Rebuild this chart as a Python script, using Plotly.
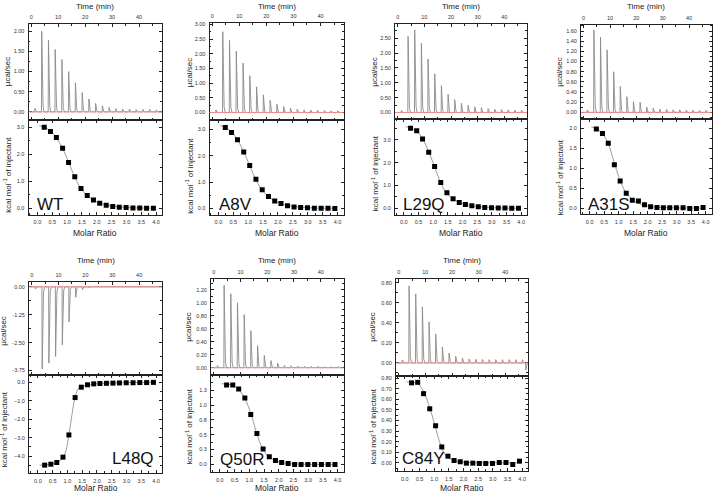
import plotly.graph_objects as go

W, H = 713, 493
FONT = "Liberation Sans, Arial, sans-serif"

# ---------------- data ----------------
INJ_TIME = [1.3, 3.8, 6.3, 8.8, 11.3, 13.8, 16.3, 18.8, 21.3, 23.8, 26.3, 28.8,
            31.3, 33.8, 36.3, 38.8, 41.3, 43.8, 46.3]
MOLAR_RATIO = [0.23, 0.44, 0.64, 0.85, 1.05, 1.26, 1.47, 1.68, 1.89, 2.10, 2.32,
               2.54, 2.76, 2.99, 3.22, 3.45, 3.68, 3.91]
FIT_X = [0.06, 0.25, 0.45, 0.65, 0.85, 0.95, 1.05, 1.15, 1.25, 1.35, 1.45, 1.65,
         1.85, 2.1, 2.4, 2.8, 3.3, 3.95]
BASELINE = 0.0

WT_PEAK = [0.09, 2.0, 1.78, 1.55, 1.30, 1.0, 0.72, 0.48, 0.32, 0.21, 0.15, 0.11,
           0.08, 0.07, 0.07, 0.06, 0.06, 0.06, 0.05]
WT_HEAT = [3.0, 2.85, 2.62, 2.23, 1.70, 1.17, 0.74, 0.48, 0.31, 0.19, 0.12, 0.07,
           0.04, 0.03, 0.02, 0.02, 0.01, 0.01]
WT_FIT = [3.06, 3.0, 2.86, 2.6, 2.22, 1.98, 1.71, 1.44, 1.18, 0.95, 0.77, 0.5,
          0.33, 0.2, 0.11, 0.05, 0.02, 0.01]

A8V_PEAK = [0.09, 2.75, 2.46, 2.09, 1.68, 1.25, 0.87, 0.60, 0.41, 0.28, 0.20, 0.15,
            0.11, 0.09, 0.08, 0.07, 0.07, 0.06, 0.06]
A8V_HEAT = [3.07, 2.88, 2.60, 2.14, 1.63, 1.11, 0.71, 0.46, 0.29, 0.19, 0.11, 0.06,
            0.04, 0.03, 0.01, 0.01, 0.01, 0.0]
A8V_FIT = [3.14, 3.07, 2.88, 2.59, 2.14, 1.89, 1.63, 1.36, 1.12, 0.90, 0.73, 0.48,
           0.32, 0.19, 0.10, 0.05, 0.02, 0.01]

L29Q_PEAK = [0.07, 2.56, 2.78, 2.33, 1.80, 1.30, 0.90, 0.61, 0.43, 0.31, 0.24, 0.19,
             0.16, 0.13, 0.11, 0.10, 0.09, 0.08, 0.08]
L29Q_HEAT = [3.5, 3.39, 3.03, 2.45, 1.83, 1.13, 0.68, 0.42, 0.26, 0.17, 0.12, 0.07,
             0.04, 0.03, 0.02, 0.02, 0.01, 0.01]
L29Q_FIT = [3.57, 3.5, 3.36, 3.03, 2.47, 2.15, 1.82, 1.47, 1.14, 0.88, 0.69, 0.44,
            0.28, 0.17, 0.10, 0.05, 0.02, 0.01]

A31S_PEAK = [0.05, 1.62, 1.48, 1.23, 0.80, 0.51, 0.31, 0.21, 0.20, 0.105, 0.085,
             0.065, 0.06, 0.05, 0.05, 0.045, 0.045, 0.04, 0.04]
A31S_HEAT = [1.99, 1.875, 1.63, 1.09, 0.68, 0.375, 0.20, 0.18, 0.083, 0.033, 0.017,
             0.01, 0.01, 0.01, 0.01, -0.01, -0.01, 0.017]
A31S_FIT = [2.04, 1.99, 1.87, 1.60, 1.13, 0.90, 0.69, 0.52, 0.39, 0.30, 0.22, 0.13,
            0.08, 0.04, 0.02, 0.01, 0.005, 0.0]

L48Q_PEAK = [-0.1, -3.68, -3.42, -3.12, -2.6, -1.58, -0.47, -0.12, -0.04, -0.03,
             -0.03, -0.03, -0.02, -0.02, -0.02, -0.02, -0.02, -0.02, -0.02]
L48Q_HEAT = [-4.48, -4.43, -4.34, -4.05, -2.85, -0.83, -0.27, -0.14, -0.09, -0.07,
             -0.06, -0.05, -0.04, -0.03, -0.03, -0.02, -0.02, -0.01]
L48Q_FIT = [-4.48, -4.47, -4.43, -4.33, -4.08, -3.7, -2.85, -1.8, -0.85, -0.4,
            -0.25, -0.15, -0.1, -0.07, -0.05, -0.03, -0.02, -0.01]
L48Q_RAW_TICKS = [0.0, -1.25, -2.5, -3.75]
L48Q_RAW_TEXT = ["0.00", "-1.25", "-2.50", "-3.75"]

Q50R_PEAK = [0.035, 1.27, 1.14, 1.0, 0.82, 0.57, 0.34, 0.19, 0.11, 0.07, 0.035,
             0.03, 0.025, 0.02, 0.02, 0.02, 0.015, 0.015, 0.015]
Q50R_HEAT = [1.34, 1.34, 1.27, 1.12, 0.84, 0.52, 0.26, 0.13, 0.066, 0.033, 0.016,
             0.0, 0.0, 0.0, 0.0, 0.0, 0.0, 0.0]
Q50R_FIT = [1.36, 1.355, 1.33, 1.26, 1.11, 1.0, 0.86, 0.70, 0.53, 0.38, 0.27, 0.13,
            0.07, 0.03, 0.01, 0.003, 0.0, 0.0]
Q50R_YTICKS = [0.0, 0.25, 0.5, 0.75, 1.0, 1.25]
Q50R_YTEXT = ["0.0", "0.3", "0.5", "0.8", "1.0", "1.3"]

C84Y_TIME = INJ_TIME + [47.6]
C84Y_PEAK = [0.03, 0.77, 0.69, 0.56, 0.41, 0.29, 0.16, 0.10, 0.067, 0.05, 0.04,
             0.037, 0.035, 0.033, 0.033, 0.033, 0.033, 0.033, 0.033, -0.07]
C84Y_HEAT = [0.755, 0.76, 0.653, 0.51, 0.35, 0.15, 0.063, 0.022, 0.01, -0.003,
             -0.003, -0.006, -0.006, -0.006, 0.003, 0.003, -0.016, 0.016]
C84Y_FIT = [0.765, 0.76, 0.745, 0.67, 0.52, 0.43, 0.33, 0.23, 0.15, 0.09, 0.055,
            0.025, 0.012, 0.005, 0.0, 0.0, 0.0, 0.0]

# ---------------- layout spec ----------------
# box = (left, right, top, middle, bottom) in pixels
PANELS = [
    dict(name="WT", times=INJ_TIME, peak=WT_PEAK, heat=WT_HEAT, fit=WT_FIT,
         box=(28.5, 162, 22.5, 118, 213.5), row=0,
         trange=[-0.19, 2.17], tdt=0.5, tfmt=".2f",
         brange=[-0.23, 3.29], bdt=1.0, bfmt=".1f",
         lab=(35, 203, "left"), ytl=(70, 174), ytx=21),
    dict(name="A8V", times=INJ_TIME, peak=A8V_PEAK, heat=A8V_HEAT, fit=A8V_FIT,
         box=(209.5, 343.5, 21, 118, 213.5), row=0,
         trange=[-0.24, 3.05], tdt=0.5, tfmt=".2f",
         brange=[-0.23, 3.37], bdt=1.0, bfmt=".1f",
         lab=(217, 203, "left"), ytl=(70, 174), ytx=20),
    dict(name="L29Q", times=INJ_TIME, peak=L29Q_PEAK, heat=L29Q_HEAT, fit=L29Q_FIT,
         box=(395, 527, 22, 117.5, 213.5), row=0,
         trange=[-0.22, 2.98], tdt=0.5, tfmt=".2f",
         brange=[-0.27, 3.9], bdt=1.0, bfmt=".1f",
         lab=(401, 203, "left"), ytl=(70, 172), ytx=20),
    dict(name="A31S", times=INJ_TIME, peak=A31S_PEAK, heat=A31S_HEAT, fit=A31S_FIT,
         box=(581, 711.5, 23, 117, 213), row=0,
         trange=[-0.12, 1.72], tdt=0.2, tfmt=".2f",
         brange=[-0.15, 2.25], bdt=0.5, bfmt=".1f",
         lab=(586, 203, "left"), ytl=(70, 176), ytx=21),
    dict(name="L48Q", times=INJ_TIME, peak=L48Q_PEAK, heat=L48Q_HEAT, fit=L48Q_FIT,
         box=(29, 162, 281.5, 374.5, 473), row=1,
         trange=[-3.95, 0.2], tdt=None, tfmt=None,
         brange=[-4.91, 0.39], bdt=1.0, bfmt=".1f",
         lab=(156, 458.5, "right"), ytl=(330, 429), ytx=25),
    dict(name="Q50R", times=INJ_TIME, peak=Q50R_PEAK, heat=Q50R_HEAT, fit=Q50R_FIT,
         box=(211, 343.5, 278, 375, 472), row=1,
         trange=[-0.12, 1.37], tdt=0.2, tfmt=".2f",
         brange=[-0.13, 1.50], bdt=None, bfmt=None,
         lab=(218, 459.5, "left"), ytl=(326, 426), ytx=22),
    dict(name="C84Y", times=C84Y_TIME, peak=C84Y_PEAK, heat=C84Y_HEAT, fit=C84Y_FIT,
         box=(396, 528, 278, 375.5, 471), row=1,
         trange=[-0.13, 0.84], tdt=0.2, tfmt=".2f",
         brange=[-0.078, 0.82], bdt=0.1, bfmt=".2f",
         lab=(400, 458, "left"), ytl=(326, 426), ytx=23),
]
ROW_TIME_Y = [4.5, 260]
ROW_MOLAR_Y = [232, 488]
TIME_RANGE = [-1.0, 48.5]
RATIO_RANGE = [-0.3, 4.2]

# spike shape (time offset in min, fraction of peak)
PROFILE_DT = [0.0, 0.1, 0.3, 0.6, 1.0]
PROFILE_F = [0.0, 1.0, 0.3, 0.07, 0.0]


def px(x):
    return x / W


def py(y):
    return 1 - y / H


def aname(kind, n):
    return f"{kind}axis" if n == 1 else f"{kind}axis{n}"


def aref(kind, n):
    return kind if n == 1 else f"{kind}{n}"


MINOR = dict(ticks="inside", ticklen=1.8, tickcolor="#222", tickwidth=0.6)
AX_COMMON = dict(
    showline=True, linecolor="#222", linewidth=1, mirror="allticks",
    ticks="inside", ticklen=3, tickwidth=0.8, tickcolor="#222",
    showgrid=False, zeroline=False, ticklabelstandoff=2,
    tickfont=dict(size=5.5, color="#333", family=FONT),
)


def ann(text, x, y, size, xanchor="center", yanchor="middle", angle=0, color="#222"):
    return dict(text=text, x=px(x), y=py(y), xref="paper", yref="paper",
                showarrow=False, xanchor=xanchor, yanchor=yanchor, textangle=angle,
                font=dict(size=size, color=color, family=FONT))


fig = go.Figure()
layout = {}
annotations = []
shapes = []

for i, p in enumerate(PANELS):
    nt, nb = 2 * i + 1, 2 * i + 2
    l, r, t, m, b = p["box"]
    xt, yt, xb, yb = aref("x", nt), aref("y", nt), aref("x", nb), aref("y", nb)

    # thermogram
    tx, ty = [TIME_RANGE[0] + 0.5], [BASELINE]
    for tm, h in zip(p["times"], p["peak"]):
        for dt, f in zip(PROFILE_DT, PROFILE_F):
            tx.append(tm + dt)
            ty.append(BASELINE + h * f)
    tx.append(TIME_RANGE[1])
    ty.append(BASELINE)
    fig.add_trace(go.Scatter(x=tx, y=ty, mode="lines", xaxis=xt, yaxis=yt,
                             line=dict(color="#8a8a8a", width=0.9),
                             hoverinfo="skip", showlegend=False))
    shapes.append(dict(type="line", xref=f"{xt} domain", yref=yt, x0=0, x1=1,
                       y0=BASELINE, y1=BASELINE,
                       line=dict(color="#f08a8a", width=1)))

    # integrated heats
    fig.add_trace(go.Scatter(x=FIT_X, y=p["fit"], mode="lines", xaxis=xb, yaxis=yb,
                             line=dict(color="#9a9a9a", width=1, shape="spline",
                                       smoothing=0.8),
                             hoverinfo="skip", showlegend=False))
    fig.add_trace(go.Scatter(x=MOLAR_RATIO, y=p["heat"], mode="markers",
                             xaxis=xb, yaxis=yb,
                             marker=dict(symbol="square", size=5, color="black"),
                             showlegend=False))

    # axes
    layout[aname("x", nt)] = dict(AX_COMMON, domain=[px(l), px(r)], range=TIME_RANGE,
                                  side="top", tick0=0, dtick=10, anchor=yt,
                                  minor=dict(MINOR, dtick=5))
    ytax = dict(AX_COMMON, domain=[py(m), py(t)], range=p["trange"], anchor=xt)
    if p["tdt"] is None:
        ytax.update(tickmode="array", tickvals=L48Q_RAW_TICKS, ticktext=L48Q_RAW_TEXT,
                    minor=dict(MINOR, dtick=0.625, tick0=0))
    else:
        ytax.update(tick0=0, dtick=p["tdt"], tickformat=p["tfmt"],
                    minor=dict(MINOR, dtick=p["tdt"] / 2))
    layout[aname("y", nt)] = ytax
    layout[aname("x", nb)] = dict(AX_COMMON, domain=[px(l), px(r)], range=RATIO_RANGE,
                                  side="bottom", tick0=0, dtick=0.5, tickformat=".1f",
                                  anchor=yb, minor=dict(MINOR, dtick=0.25))
    ybax = dict(AX_COMMON, domain=[py(b), py(m)], range=p["brange"], anchor=xb)
    if p["bdt"] is None:
        ybax.update(tickmode="array", tickvals=Q50R_YTICKS, ticktext=Q50R_YTEXT,
                    minor=dict(MINOR, dtick=0.125, tick0=0))
    else:
        ybax.update(tick0=0, dtick=p["bdt"], tickformat=p["bfmt"],
                    minor=dict(MINOR, dtick=p["bdt"] / 2))
    layout[aname("y", nb)] = ybax

    # titles
    cx = (l + r) / 2
    annotations.append(ann("Time (min)", cx, ROW_TIME_Y[p["row"]], 8))
    annotations.append(ann("Molar Ratio", cx, ROW_MOLAR_Y[p["row"]], 8.5))
    annotations.append(ann("µcal/sec", l - p["ytx"], p["ytl"][0], 8, angle=-90))
    annotations.append(ann("kcal mol<sup>-1</sup> of injectant", l - p["ytx"],
                           p["ytl"][1], 8, angle=-90))
    lx, ly, anch = p["lab"]
    annotations.append(ann(p["name"], lx, ly, 17, xanchor=anch, color="#111"))

fig.update_layout(
    width=W, height=H, margin=dict(l=0, r=0, t=0, b=0),
    paper_bgcolor="white", plot_bgcolor="white", showlegend=False,
    annotations=annotations, shapes=shapes, **layout,
)
fig.write_html("out.html", config={"displayModeBar": False},
               post_script="document.body.style.margin='0';"
                           "document.body.style.padding='0';")
